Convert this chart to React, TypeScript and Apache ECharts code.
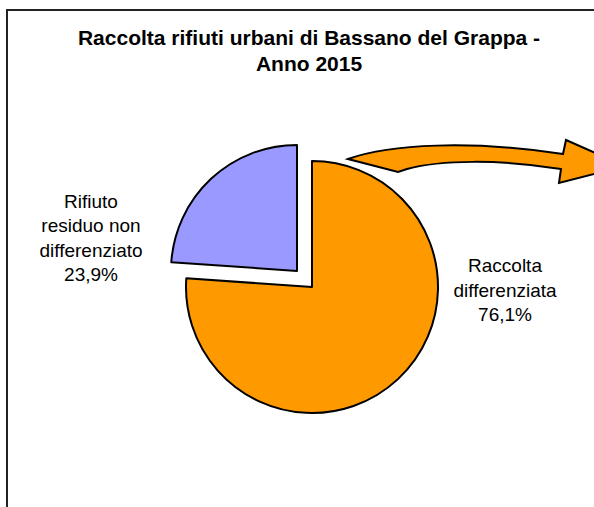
import React, { useEffect, useRef } from "react";
import * as echarts from "echarts";

const titleLines = ["Raccolta rifiuti urbani di Bassano del Grappa -", "Anno 2015"];
const categories = ["Raccolta\ndifferenziata", "Rifiuto\nresiduo non\ndifferenziato"];
const values = [76.1, 23.9];
const colors = ["#FF9900", "#9999FF"];
const explodedIndex = 1;

const labelPos = [
  { x: 505, y: 290 },
  { x: 91, y: 238 },
];

const arrowPath =
  "M 348 159 C 390 144 470 140 563 154 L 566 140 L 625 166 L 559 183 L 561 169 C 500 159 440 160 407 169 L 398 172 Z";

const fmt = (v: number) => v.toFixed(1).replace(".", ",") + "%";

export default function App() {
  const ref = useRef<HTMLDivElement>(null);
  useEffect(() => {
    if (!ref.current) return;
    try {
      echarts.graphic.registerShape("curvedArrow", echarts.graphic.extendPath(arrowPath, {}));
    } catch (e) {}
    const chart = echarts.init(ref.current, undefined, { renderer: "svg" });
    const labelTexts = categories.map((c, i) => ({
      type: "text",
      x: labelPos[i].x,
      y: labelPos[i].y,
      z: 20,
      style: {
        text: c + "\n" + fmt(values[i]),
        fontFamily: "Liberation Sans, Arial, sans-serif",
        fontSize: 19,
        lineHeight: 24.5,
        fill: "#000",
        align: "center",
        verticalAlign: "middle",
      },
    }));
    chart.setOption({
      animation: false,
      backgroundColor: "#ffffff",
      title: {
        text: titleLines.join("\n"),
        left: 309,
        top: 24,
        padding: 0,
        textAlign: "center",
        textStyle: {
          fontFamily: "Liberation Sans, Arial, sans-serif",
          fontWeight: "bold",
          fontSize: 21,
          lineHeight: 26.5,
          color: "#000",
        },
      },
      graphic: [
        {
          type: "rect",
          shape: { x: 7, y: 10, width: 700, height: 600 },
          style: { fill: "none", stroke: "#222", lineWidth: 2 },
          z: 0,
        },
        {
          type: "curvedArrow",
          x: 0,
          y: 0,
          scaleX: 1,
          scaleY: 1,
          style: { fill: "#FF9900", stroke: "#000", lineWidth: 2 },
          z: 10,
        },
        ...labelTexts,
      ],
      series: [
        {
          type: "pie",
          center: [312, 287],
          radius: [0, 126],
          startAngle: 90,
          clockwise: true,
          selectedMode: "single",
          selectedOffset: 22,
          avoidLabelOverlap: false,
          emphasis: { disabled: true },
          labelLine: { show: false },
          label: { show: false },
          itemStyle: { borderColor: "#000", borderWidth: 2 },
          data: categories.map((c, i) => ({
            name: c,
            value: values[i],
            selected: i === explodedIndex,
            itemStyle: { color: colors[i], borderColor: "#000", borderWidth: 2 },
            select: { itemStyle: { color: colors[i], borderColor: "#000", borderWidth: 2 } },
          })),
        },
      ],
    });
    return () => chart.dispose();
  }, []);
  return (
    <div
      ref={ref}
      style={{ position: "fixed", left: 0, top: 0, width: 594, height: 507 }}
    />
  );
}
